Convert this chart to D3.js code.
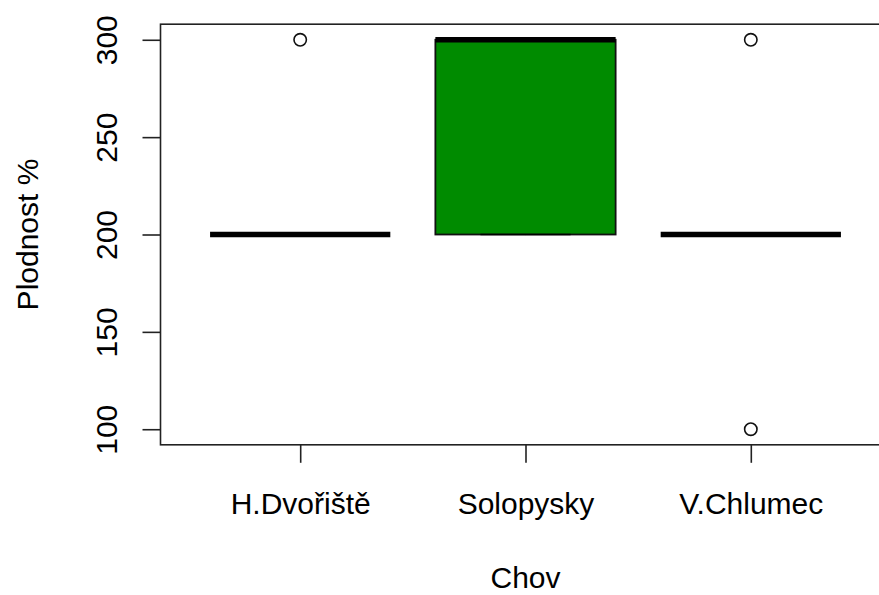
<!DOCTYPE html>
<html>
<head>
<meta charset="utf-8">
<script src="https://cdn.jsdelivr.net/npm/d3@7"></script>
<style>
  html, body { margin: 0; padding: 0; background: #fff; }
  svg { display: block; }
  text { font-family: "Liberation Sans", Arial, sans-serif; fill: #000; }
</style>
</head>
<body>
<svg id="chart" width="879" height="595"></svg>
<script>
// ---- data ----
const categories = ["H.Dvořiště", "Solopysky", "V.Chlumec"];
const whiskerLow = [200, 200, 200];
const q1 = [200, 200, 200];
const median = [200, 300, 200];
const q3 = [200, 300, 200];
const whiskerHigh = [200, 300, 200];
const outliers = [[300], [], [300, 100]];
const yTicks = [100, 150, 200, 250, 300];
const xLabel = "Chov";
const yLabel = "Plodnost %";
const boxColor = "#008B00";

// ---- layout ----
const svg = d3.select("#chart");
const x = d3.scaleLinear().domain([0.38, 3.62]).range([160.5, 890.5]);
const y = d3.scaleLinear().domain([92, 308]).range([444.8, 24.2]);
const boxHalf = 0.4;
const fontSize = 30;

// plot frame
svg.append("rect")
  .attr("x", x(0.38)).attr("y", y(308))
  .attr("width", x(3.62) - x(0.38)).attr("height", y(92) - y(308))
  .attr("fill", "none").attr("stroke", "#222").attr("stroke-width", 1.6);

// y axis
const yAxis = d3.axisLeft(y).tickValues(yTicks).tickSize(18).tickPadding(0).tickFormat(d3.format("d"));
const gy = svg.append("g").attr("transform", `translate(${x(0.38)},0)`).call(yAxis);
gy.select(".domain").remove();
gy.selectAll(".tick line").attr("stroke", "#222").attr("stroke-width", 1.6);
gy.selectAll(".tick text")
  .attr("transform", "rotate(-90)")
  .attr("x", 0).attr("y", -44)
  .attr("dy", 0)
  .attr("text-anchor", "middle")
  .style("font-size", fontSize + "px")
  .style("font-family", "'Liberation Sans', Arial, sans-serif")
  .attr("fill", "#000");

// x axis
const xAxis = d3.axisBottom(x).tickValues([1, 2, 3]).tickSize(18).tickPadding(0)
  .tickFormat((d) => categories[d - 1]);
const gx = svg.append("g").attr("transform", `translate(0,${y(92)})`).call(xAxis);
gx.select(".domain").remove();
gx.selectAll(".tick line").attr("stroke", "#222").attr("stroke-width", 1.6);
gx.selectAll(".tick text")
  .attr("y", 69).attr("dy", 0)
  .style("font-size", fontSize + "px")
  .style("font-family", "'Liberation Sans', Arial, sans-serif")
  .attr("fill", "#000");

// axis titles
svg.append("text")
  .attr("x", x(2)).attr("y", 588)
  .attr("text-anchor", "middle")
  .style("font-size", fontSize + "px")
  .text(xLabel);
svg.append("text")
  .attr("transform", `translate(38,${y(200)}) rotate(-90)`)
  .attr("text-anchor", "middle")
  .style("font-size", fontSize + "px")
  .text(yLabel);

// boxes
const idx = d3.range(categories.length);
const g = svg.append("g");

// whiskers (dashed)
g.selectAll(".whisker-lo").data(idx).join("line")
  .attr("x1", (i) => x(i + 1)).attr("x2", (i) => x(i + 1))
  .attr("y1", (i) => y(whiskerLow[i])).attr("y2", (i) => y(q1[i]))
  .attr("stroke", "#000").attr("stroke-width", 1.6).attr("stroke-dasharray", "6,6");
g.selectAll(".whisker-hi").data(idx).join("line")
  .attr("x1", (i) => x(i + 1)).attr("x2", (i) => x(i + 1))
  .attr("y1", (i) => y(whiskerHigh[i])).attr("y2", (i) => y(q3[i]))
  .attr("stroke", "#000").attr("stroke-width", 1.6).attr("stroke-dasharray", "6,6");

// box rects
g.selectAll(".box").data(idx).join("rect")
  .attr("x", (i) => x(i + 1 - boxHalf))
  .attr("width", (i) => x(i + 1 + boxHalf) - x(i + 1 - boxHalf))
  .attr("y", (i) => y(q3[i]))
  .attr("height", (i) => y(q1[i]) - y(q3[i]))
  .attr("fill", boxColor)
  .attr("stroke", "#111").attr("stroke-width", 1.8);

// staples
g.selectAll(".staple").data(idx.flatMap((i) => [[i, whiskerLow[i]], [i, whiskerHigh[i]]])).join("line")
  .attr("x1", (d) => x(d[0] + 1 - boxHalf / 2)).attr("x2", (d) => x(d[0] + 1 + boxHalf / 2))
  .attr("y1", (d) => y(d[1])).attr("y2", (d) => y(d[1]))
  .attr("stroke", "#000").attr("stroke-width", 1.6);

// medians
g.selectAll(".median").data(idx).join("line")
  .attr("x1", (i) => x(i + 1 - boxHalf)).attr("x2", (i) => x(i + 1 + boxHalf))
  .attr("y1", (i) => y(median[i])).attr("y2", (i) => y(median[i]))
  .attr("stroke", "#000").attr("stroke-width", 5.5);

// outliers
g.selectAll(".out").data(idx.flatMap((i) => outliers[i].map((v) => [i, v]))).join("circle")
  .attr("cx", (d) => x(d[0] + 1)).attr("cy", (d) => y(d[1]))
  .attr("r", 6.2)
  .attr("fill", "none").attr("stroke", "#111").attr("stroke-width", 1.6);
</script>
</body>
</html>
